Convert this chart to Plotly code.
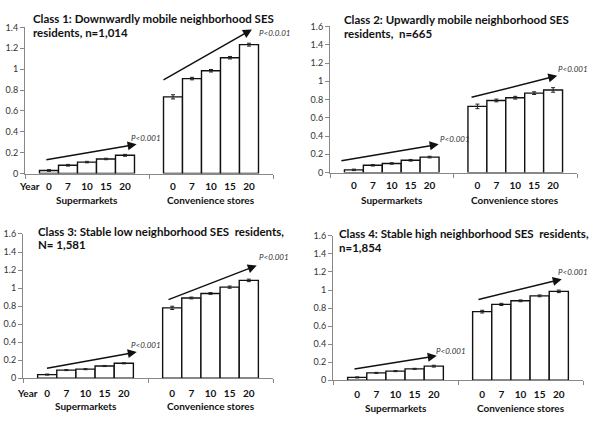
import plotly.graph_objects as go

# ---------------- data ----------------
years = ["0", "7", "10", "15", "20"]
groups = ["Supermarkets", "Convenience stores"]

title_line1 = [
    "Class 1: Downwardly mobile neighborhood SES",
    "Class 2: Upwardly mobile neighborhood SES",
    "Class 3: Stable low neighborhood SES  residents,",
    "Class 4: Stable high neighborhood SES  residents,",
]
title_line2 = [
    "residents, n=1,014",
    "residents,  n=665",
    "N= 1,581",
    "n=1,854",
]

sup_class1 = [0.03, 0.08, 0.11, 0.14, 0.175]
conv_class1 = [0.735, 0.91, 0.985, 1.11, 1.235]
sup_class2 = [0.03, 0.08, 0.10, 0.135, 0.17]
conv_class2 = [0.725, 0.79, 0.82, 0.87, 0.905]
sup_class3 = [0.04, 0.09, 0.10, 0.135, 0.165]
conv_class3 = [0.78, 0.89, 0.94, 1.01, 1.085]
sup_class4 = [0.03, 0.08, 0.10, 0.125, 0.155]
conv_class4 = [0.76, 0.84, 0.88, 0.935, 0.985]

sup_err_class1 = [0.008, 0.008, 0.007, 0.007, 0.009]
conv_err_class1 = [0.02, 0.012, 0.012, 0.012, 0.014]
sup_err_class2 = [0.008, 0.008, 0.008, 0.009, 0.009]
conv_err_class2 = [0.025, 0.015, 0.015, 0.015, 0.025]
sup_err_class3 = [0.006, 0.006, 0.006, 0.006, 0.006]
conv_err_class3 = [0.018, 0.01, 0.01, 0.012, 0.014]
sup_err_class4 = [0.006, 0.006, 0.006, 0.006, 0.01]
conv_err_class4 = [0.015, 0.012, 0.01, 0.01, 0.014]

y_max = [1.4, 1.6, 1.6, 1.6]
p_sup = ["P<0.001", "P<0.001", "P<0.001", "P<0.001"]
p_conv = ["P<0.0.01", "P<0.001", "P<0.001", "P<0.001"]

sup_vals = [sup_class1, sup_class2, sup_class3, sup_class4]
conv_vals = [conv_class1, conv_class2, conv_class3, conv_class4]
sup_errs = [sup_err_class1, sup_err_class2, sup_err_class3, sup_err_class4]
conv_errs = [conv_err_class1, conv_err_class2, conv_err_class3, conv_err_class4]

# ---------------- layout geometry (pixels of the 600x428 canvas) ----------------
W, H = 600, 428
panels_px = [  # x0, x1, ytop, ybottom
    (25, 273, 22, 172),
    (330, 577, 21, 171),
    (23, 273, 234, 382),
    (333, 583, 236, 384),
]
title_px = [(32, 13, 27), (343, 14, 28), (37, 231, 245), (338, 234, 248)]
x_ticklen = [3, 3, 6, 5]
group_shift = [-26, -27, -28, -28]
# arrows: (tail x, tail y, head x, head y) in data units
sup_arrows = [(-0.34, 0.13, 0.40, 0.28), (-0.42, 0.128, 0.38, 0.31),
              (-0.32, 0.108, 0.41, 0.29), (-0.34, 0.12, 0.33, 0.27)]
conv_arrows = [(0.605, 0.89, 1.33, 1.38), (0.634, 0.82, 1.34, 1.06),
               (0.652, 0.865, 1.37, 1.25), (0.652, 0.89, 1.33, 1.12)]
# p-value label (left x, centre y) in data units
sup_p_pos = [(0.347, 0.345), (0.383, 0.363), (0.356, 0.368), (0.316, 0.324)]
conv_p_pos = [(1.379, 1.344), (1.338, 1.131), (1.38, 1.34), (1.292, 1.2)]

bargap = 0.234
w = (1 - bargap) / len(years)

fig = go.Figure()
annotations = []
font_family = "Lato, Open Sans, Liberation Sans, sans-serif"

for k in range(4):
    n = "" if k == 0 else str(k + 1)
    xs, labels, ys, errs = [], [], [], []
    for gi, (vals, evals) in enumerate([(sup_vals[k], sup_errs[k]), (conv_vals[k], conv_errs[k])]):
        for yi, yr in enumerate(years):
            xs.append(gi + (yi - (len(years) - 1) / 2) * w)
            labels.append(yr)
            ys.append(vals[yi])
            errs.append(evals[yi])
    fig.add_trace(go.Bar(
        x=xs, y=ys, width=w, xaxis="x" + n, yaxis="y" + n,
        marker=dict(color="white", line=dict(color="#111", width=1.4)),
        error_y=dict(type="data", array=errs, visible=True, color="#222", thickness=1, width=2),
        showlegend=False, hoverinfo="y",
    ))
    x0, x1, yt, yb = panels_px[k]
    fig.layout["xaxis" + n] = dict(
        domain=[x0 / W, x1 / W], anchor="y" + n, range=[-0.5, 1.5],
        tickmode="array", tickvals=xs, ticktext=labels,
        ticks="outside", ticklen=x_ticklen[k], tickcolor="rgba(0,0,0,0)",
        tickfont=dict(size=10, family=font_family, color="#111", weight="bold"),
        showline=True, linecolor="#888", linewidth=1, showgrid=False, zeroline=False,
        minor=dict(tickmode="array", tickvals=[-0.5, 0.5, 1.5], ticks="outside",
                   ticklen=4, tickcolor="#888", showgrid=False),
        fixedrange=True,
    )
    fig.layout["yaxis" + n] = dict(
        domain=[1 - yb / H, 1 - yt / H], anchor="x" + n, range=[0, y_max[k]], dtick=0.2,
        ticks="outside", ticklen=4, tickcolor="#888",
        tickfont=dict(size=9, family=font_family, color="#333"),
        showline=True, linecolor="#888", linewidth=1, showgrid=False, zeroline=False,
        fixedrange=True,
    )
    # group labels
    for gi, g in enumerate(groups):
        annotations.append(dict(
            x=gi, xref="x" + n, y=0, yref="y" + n + " domain", yshift=group_shift[k],
            text=g, showarrow=False, yanchor="middle",
            font=dict(size=10, family=font_family, color="#111", weight="bold"),
        ))
    if k in (0, 2):
        annotations.append(dict(
            x=0, xref="x" + n + " domain", y=0, yref="y" + n + " domain",
            yshift=-(x_ticklen[k] + 9), xshift=4,
            text="Year", showarrow=False, yanchor="middle", xanchor="center",
            font=dict(size=10, family=font_family, color="#111", weight="bold"),
        ))
    # title (two lines)
    tx, ty1, ty2 = title_px[k]
    for txt, ty in [(title_line1[k], ty1), (title_line2[k], ty2)]:
        annotations.append(dict(
            x=tx / W, y=1 - ty / H, xref="paper", yref="paper", xanchor="left", yanchor="middle",
            text=txt, showarrow=False, align="left", borderpad=0,
            font=dict(size=11.5, family=font_family, color="#111", weight="bold"),
        ))
    # arrows and p-values
    for arr, ptxt, ppos in [(sup_arrows[k], p_sup[k], sup_p_pos[k]),
                            (conv_arrows[k], p_conv[k], conv_p_pos[k])]:
        ax0, ay0, ax1, ay1 = arr
        annotations.append(dict(
            x=ax1, y=ay1, ax=ax0, ay=ay0, xref="x" + n, yref="y" + n,
            axref="x" + n, ayref="y" + n, showarrow=True, text="",
            arrowhead=2, arrowsize=1.2, arrowwidth=1.5, arrowcolor="#111",
        ))
        annotations.append(dict(
            x=ppos[0], y=ppos[1], xref="x" + n, yref="y" + n, xanchor="left", yanchor="middle",
            text="<i>" + ptxt + "</i>", showarrow=False, borderpad=0,
            font=dict(size=8, family=font_family, color="#333"),
        ))

fig.update_layout(
    width=W, height=H, margin=dict(l=0, r=0, t=0, b=0),
    paper_bgcolor="white", plot_bgcolor="white",
    annotations=annotations, bargap=bargap,
)
fig.write_html("out.html", config={"displayModeBar": False},
               post_script="document.body.style.margin='0';")
